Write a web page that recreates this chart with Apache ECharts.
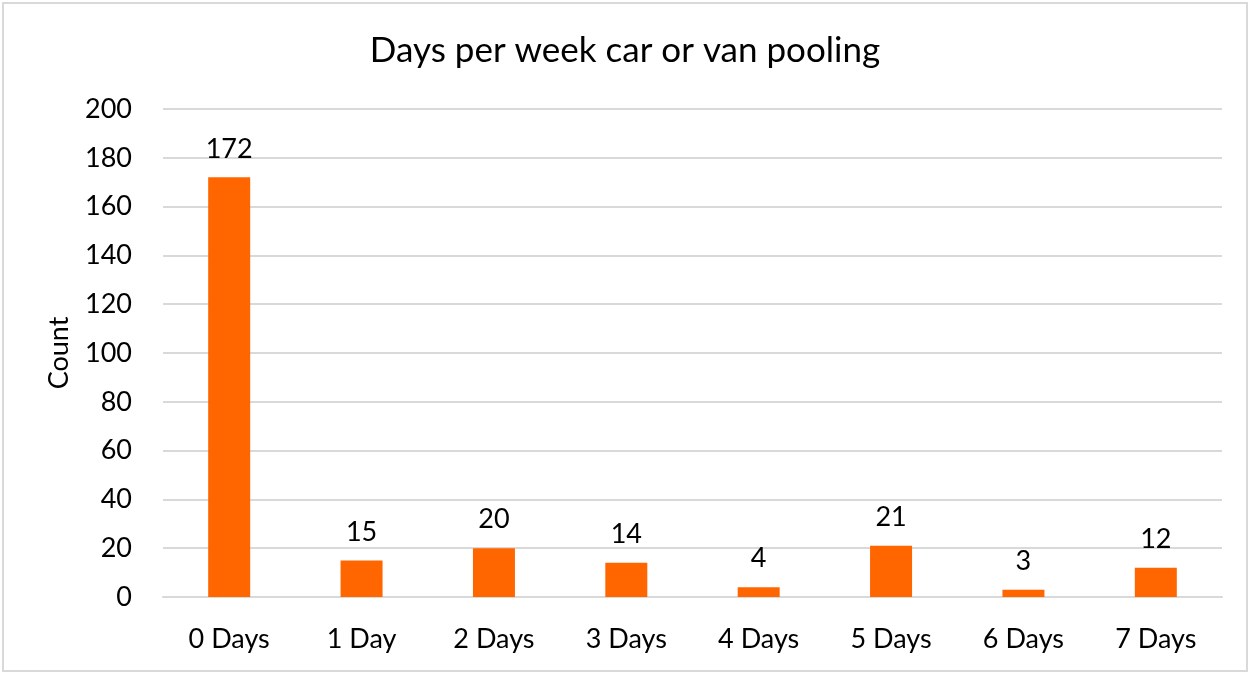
<!DOCTYPE html>
<html>
<head>
<meta charset="utf-8">
<script src="https://cdn.jsdelivr.net/npm/echarts@6/dist/echarts.min.js"></script>
<style>
  html, body { margin: 0; padding: 0; background: #fff; }
  #chart { width: 1250px; height: 675px; }
</style>
</head>
<body>
<div id="chart"></div>
<script>
const categories = ['0 Days', '1 Day', '2 Days', '3 Days', '4 Days', '5 Days', '6 Days', '7 Days'];
const counts = [172, 15, 20, 14, 4, 21, 3, 12];
const chartTitle = 'Days per week car or van pooling';
const yAxisName = 'Count';

const chart = echarts.init(document.getElementById('chart'));
const font = 'Lato, "Open Sans", sans-serif';

chart.setOption({
  animation: false,
  textStyle: { fontFamily: font },
  graphic: [{
    type: 'rect',
    shape: { x: 3, y: 3, width: 1244, height: 668 },
    style: { fill: 'none', stroke: '#d9d9d9', lineWidth: 2 },
    silent: true
  }],
  title: {
    text: chartTitle,
    left: 'center',
    top: 28,
    textStyle: { fontFamily: font, fontSize: 35, fontWeight: 'normal', color: '#000' }
  },
  grid: { left: 163, right: 28, top: 109, bottom: 78 },
  xAxis: {
    type: 'category',
    data: categories,
    axisLine: { lineStyle: { color: '#d9d9d9', width: 2 } },
    axisTick: { show: false },
    axisLabel: { fontFamily: font, fontSize: 27, color: '#000', margin: 29 }
  },
  yAxis: {
    type: 'value',
    min: 0,
    max: 200,
    interval: 20,
    name: yAxisName,
    nameLocation: 'middle',
    nameGap: 90,
    nameTextStyle: { fontFamily: font, fontSize: 27, color: '#000' },
    axisLine: { show: false },
    axisTick: { show: false },
    splitLine: { lineStyle: { color: '#d9d9d9', width: 2 } },
    axisLabel: { fontFamily: font, fontSize: 27, color: '#000', margin: 31 }
  },
  series: [{
    type: 'bar',
    data: counts,
    barWidth: 42,
    itemStyle: { color: '#ff6600' },
    label: {
      show: true,
      position: 'top',
      distance: 15,
      fontFamily: font,
      fontSize: 27,
      color: '#000'
    }
  }]
});
</script>
</body>
</html>
